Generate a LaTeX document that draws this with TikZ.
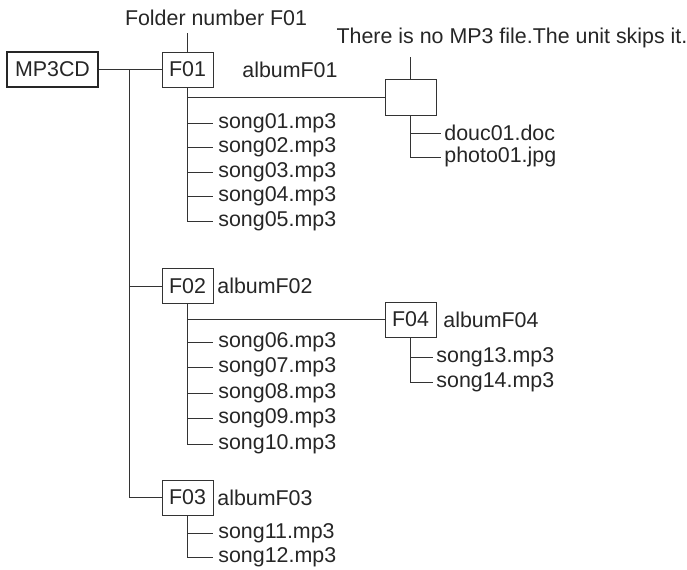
\documentclass[tikz,border=0pt]{standalone}
\usepackage{fontspec}
\setmainfont{Liberation Sans}
\begin{document}
\begin{tikzpicture}[x=0.5pt,y=-0.5pt,
  every node/.style={font=\fontsize{10.7}{12.8}\selectfont, text=black!85},
  fbox/.style={draw=black!80, line width=0.5pt, minimum width=25.5pt, minimum height=17.5pt, inner sep=0pt},
  rootbox/.style={draw=black!85, line width=1pt, minimum width=45.5pt, minimum height=17.5pt, inner sep=0pt},
  file/.style={anchor=west, inner xsep=2.5pt, inner ysep=0pt},
  lbl/.style={anchor=west, inner sep=0pt},
  conn/.style={draw=black!80, line width=0.5pt}]
\useasboundingbox (0,0) rectangle (687,569);
% root
\node[rootbox] (root) at (52.5,69.5) {MP3CD};
\coordinate (trunk) at (129,69.5);
% F01
\node[fbox] (f01) at (187.5,69.5) {F01};
\node[lbl] (a01) at (242,70) {albumF01};
\node (fn) at (216,18) {Folder number F01};
\coordinate (fnend) at (187.5,33);
% empty folder
\node[fbox, minimum height=18pt] (emp) at (410.5,97) {};
\node (nomp3) at (512,38) {There is no MP3 file.The unit skips it.};
\coordinate (npend) at (410.5,57);
\node[file, inner xsep=1.5pt] (doc) at (441,133) {douc01.doc};
\node[file, inner xsep=1.5pt] (jpg) at (441,157) {photo01.jpg};
% songs of F01
\node[file] (s01) at (213,123) {song01.mp3};
\node[file] (s02) at (213,147.5) {song02.mp3};
\node[file] (s03) at (213,172) {song03.mp3};
\node[file] (s04) at (213,196.5) {song04.mp3};
\node[file] (s05) at (213,221) {song05.mp3};
% F02
\node[fbox] (f02) at (187.5,286) {F02};
\node[lbl] (a02) at (217,286) {albumF02};
\node[file] (s06) at (213,342) {song06.mp3};
\node[file] (s07) at (213,367.5) {song07.mp3};
\node[file] (s08) at (213,393) {song08.mp3};
\node[file] (s09) at (213,418.5) {song09.mp3};
\node[file] (s10) at (213,444) {song10.mp3};
% F04
\node[fbox] (f04) at (410.5,319.5) {F04};
\node[lbl] (a04) at (443,319.5) {albumF04};
\node[file, inner xsep=1.5pt] (s13) at (433,357) {song13.mp3};
\node[file, inner xsep=1.5pt] (s14) at (433,382) {song14.mp3};
% F03
\node[fbox] (f03) at (187.5,497.5) {F03};
\node[lbl] (a03) at (217,497.5) {albumF03};
\node[file] (s11) at (213,533) {song11.mp3};
\node[file] (s12) at (213,557) {song12.mp3};
% connectors
\draw[conn] (root) -- (f01);
\draw[conn] (trunk) |- (f02.west);
\draw[conn] (trunk) |- (f03.west);
\draw[conn] (f01.north) -- (fnend);
\draw[conn] (emp.north) -- (npend);
\draw[conn] (f01.south) |- (emp.west);
\foreach \s in {s01,s02,s03,s04,s05} \draw[conn] (f01.south) |- (\s.west);
\foreach \s in {doc,jpg} \draw[conn] (emp.south) |- (\s.west);
\draw[conn] (f02.south) |- (f04.west);
\foreach \s in {s06,s07,s08,s09,s10} \draw[conn] (f02.south) |- (\s.west);
\foreach \s in {s13,s14} \draw[conn] (f04.south) |- (\s.west);
\foreach \s in {s11,s12} \draw[conn] (f03.south) |- (\s.west);
\end{tikzpicture}
\end{document}
